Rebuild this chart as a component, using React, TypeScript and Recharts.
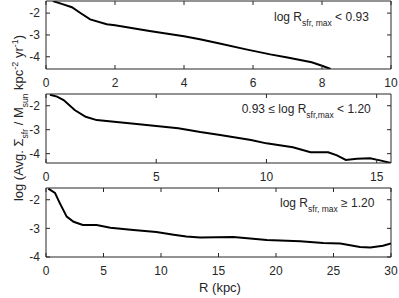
import React from 'react';
import { LineChart, Line, XAxis, YAxis } from 'recharts';

// panel 1: log R_sfr,max < 0.93
const r1 = [0.2, 0.5, 0.75, 1.03, 1.28, 1.76, 2.0, 3.0, 4.0, 4.46, 5.0, 5.8, 6.5, 7.0, 7.7, 8.0, 8.25];
const sfr1 = [-1.45, -1.6, -1.73, -2.03, -2.29, -2.51, -2.56, -2.82, -3.06, -3.2, -3.38, -3.66, -3.89, -4.03, -4.25, -4.41, -4.56];

// panel 2: 0.93 <= log R_sfr,max < 1.20
const r2 = [0.18, 0.5, 0.8, 1.3, 1.8, 2.3, 3.2, 4.0, 5.0, 6.0, 7.0, 7.9, 9.3, 10.0, 11.2, 12.0, 12.8, 13.2, 13.6, 14.1, 14.7, 15.2, 15.65];
const sfr2 = [-1.54, -1.62, -1.76, -2.18, -2.46, -2.6, -2.68, -2.75, -2.85, -2.94, -3.1, -3.22, -3.43, -3.57, -3.73, -3.94, -3.94, -4.07, -4.26, -4.21, -4.19, -4.29, -4.39];

// panel 3: log R_sfr,max >= 1.20
const r3 = [0.2, 0.78, 1.2, 1.8, 2.4, 3.2, 4.4, 5.6, 7.6, 9.6, 11.1, 12.2, 13.4, 16.3, 19.2, 22.1, 24.1, 25.6, 27.3, 28.2, 29.3, 30];
const sfr3 = [-1.61, -1.76, -2.12, -2.59, -2.77, -2.88, -2.88, -2.98, -3.06, -3.13, -3.22, -3.28, -3.32, -3.3, -3.41, -3.45, -3.51, -3.53, -3.65, -3.67, -3.61, -3.53];

const xTicks1 = [0, 2, 4, 6, 8, 10];
const xTicks2 = [0, 5, 10, 15];
const xTicks3 = [0, 5, 10, 15, 20, 25, 30];
const yTicks = [-4, -3, -2];

const toRows = (r: number[], v: number[]) => r.map((x, i) => ({ r: x, v: v[i] }));

const INK = '#262626';

interface PanelProps {
  top: number;
  marginTop: number;
  plotHeight: number;
  bottomHeight: number;
  xDomain: [number, number];
  xTicks: number[];
  yDomain: [number, number];
  data: { r: number; v: number }[];
}

const Panel: React.FC<PanelProps> = ({ top, marginTop, plotHeight, bottomHeight, xDomain, xTicks, yDomain, data }) => (
  <div style={{ position: 'absolute', left: 0, top }}>
    <LineChart
      width={399}
      height={marginTop + 1 + plotHeight + bottomHeight}
      data={data}
      margin={{ top: marginTop, right: 0, bottom: 0, left: 0 }}
    >
      <XAxis xAxisId="b" dataKey="r" type="number" domain={xDomain} ticks={xTicks} allowDataOverflow interval={0}
        orientation="bottom" height={bottomHeight} tickSize={-4} tickMargin={13} stroke={INK}
        tick={{ fill: INK, fontSize: 12 }} />
      <XAxis xAxisId="t" dataKey="r" type="number" domain={xDomain} ticks={xTicks} allowDataOverflow interval={0}
        orientation="top" height={1} tickSize={-4} tickFormatter={() => ''} stroke={INK} />
      <YAxis yAxisId="l" type="number" domain={yDomain} ticks={yTicks} allowDataOverflow interval={0}
        width={46} tickSize={-4} tickMargin={10} stroke={INK} tick={{ fill: INK, fontSize: 12 }} />
      <YAxis yAxisId="rt" orientation="right" type="number" domain={yDomain} ticks={yTicks} allowDataOverflow interval={0}
        width={8} tickSize={-4} tickFormatter={() => ''} stroke={INK} />
      <Line xAxisId="b" yAxisId="l" dataKey="v" stroke="#000" strokeWidth={2} dot={false} isAnimationActive={false} />
    </LineChart>
  </div>
);

const sub = (t: string) => <tspan baselineShift="sub" fontSize={8.5}>{t}</tspan>;
const sup = (t: string) => <tspan baselineShift="super" fontSize={9}>{t}</tspan>;

export default function App() {
  return (
    <div style={{ position: 'absolute', left: 0, top: 0, width: 399, height: 298, background: '#fff', fontFamily: '"Liberation Sans", Arial, Helvetica, sans-serif' }}>
      <Panel top={0} marginTop={0} plotHeight={68} bottomHeight={26} xDomain={[0, 10]} xTicks={xTicks1} yDomain={[-4.56, -1.445]} data={toRows(r1, sfr1)} />
      <Panel top={90} marginTop={3} plotHeight={69} bottomHeight={26} xDomain={[0, 15.65]} xTicks={xTicks2} yDomain={[-4.39, -1.51]} data={toRows(r2, sfr2)} />
      <Panel top={184} marginTop={3} plotHeight={69} bottomHeight={30} xDomain={[0, 30]} xTicks={xTicks3} yDomain={[-4, -1.59]} data={toRows(r3, sfr3)} />
      <svg width={399} height={298} style={{ position: 'absolute', left: 0, top: 0, pointerEvents: 'none' }} fill={INK} fontSize={12}>
        <text x={274} y={20.7}>log R{sub('sfr, max')}<tspan> &lt; 0.93</tspan></text>
        <text x={241.7} y={113.3}>0.93 ≤ log R{sub('sfr,max')}<tspan> &lt; 1.20</tspan></text>
        <text x={280} y={207.3}>log R{sub('sfr, max')}<tspan> ≥ 1.20</tspan></text>
        <text x={220} y={291.7} textAnchor="middle" fontSize={13}>R (kpc)</text>
        <text transform="translate(22.5,118) rotate(-90)" textAnchor="middle" fontSize={13}>
          log (Avg. Σ{sub('sfr')}<tspan> / M</tspan>{sub('sun')}<tspan> kpc</tspan>{sup('-2')}<tspan> yr</tspan>{sup('-1')}<tspan>)</tspan>
        </text>
      </svg>
    </div>
  );
}
